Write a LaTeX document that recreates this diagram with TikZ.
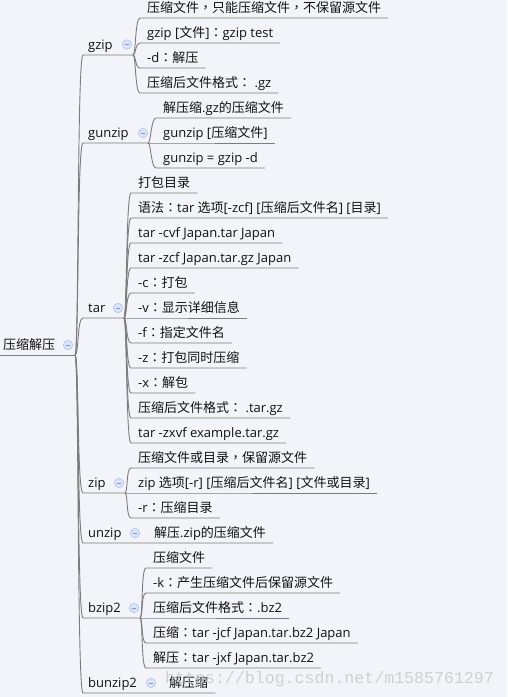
\documentclass[tikz,border=0pt]{standalone}
\usepackage{fontspec}
\setmainfont{Open Sans}
\newfontfamily\zhfont{Noto Sans CJK SC}
\newfontfamily\zhpfont{Noto Sans CJK TC}
\newfontfamily\wmfont{Liberation Mono}
\newcommand\zh[1]{{\zhfont #1}}
\newcommand\zcolon{{\zhpfont ：}}
\newcommand\zcomma{{\zhpfont ，}}
\definecolor{bgc}{HTML}{F3F4F9}
\definecolor{linec}{HTML}{7C7C7C}
\definecolor{iconfill}{HTML}{D9E3F7}
\definecolor{iconborder}{HTML}{B3C5EC}
\definecolor{iconminus}{HTML}{7B97D6}
\definecolor{txt}{HTML}{111111}
\newcommand\leaf[4]{\node[txtnode] (#1) at (#2-7,#3-5.5) {#4};}
\newcommand\leafconn[2]{\draw[conn] (#1) .. controls +(3,0) and +(-5,0) .. ([yshift=-5.5pt]#2.base west) -- ([yshift=-5.5pt]#2.base east);}
\newcommand\trunkconn[2]{\draw[conn] (rj) .. controls +(4,0) and +(-6,0) .. ([yshift=-5.5pt]#1.base west) -- #2;}
\begin{document}
\begin{tikzpicture}[x=1pt,y=-1pt,
  txtnode/.style={inner xsep=7pt, inner ysep=0pt, anchor=base west, font=\fontsize{13}{15}\selectfont, text=txt},
  conn/.style={draw=linec, line width=0.9pt},
  colicon/.style={circle, draw=iconborder, fill=iconfill, line width=0.6pt, minimum size=9.5pt, inner sep=0pt,
    path picture={\draw[iconminus, line width=0.8pt] ([xshift=2.6pt]path picture bounding box.west) -- ([xshift=-2.6pt]path picture bounding box.east);}}
]
\fill[bgc] (0,0) rectangle (507,697);
\useasboundingbox (0,0) rectangle (507,697);

% root and children
\node[txtnode, inner xsep=3pt] (root) at (0,349.5) {\zh{压缩解压}};
\coordinate (rj) at (75,355);
\node[txtnode, inner xsep=5pt] (gzip) at (83,49.5) {gzip};
\node[txtnode, inner xsep=5pt] (gunzip) at (83,137.5) {gunzip};
\node[txtnode, inner xsep=5pt] (tar) at (83,312.5) {tar};
\node[txtnode, inner xsep=5pt] (zip) at (83,487.5) {zip};
\node[txtnode, inner xsep=5pt] (unzip) at (83,537.5) {unzip};
\node[txtnode, inner xsep=5pt] (bzip) at (83,612.5) {bzip2};
\node[txtnode, inner xsep=5pt] (bunzip) at (83,687.5) {bunzip2};

\coordinate (gzipj) at (133,55);
\coordinate (gunzipj) at (148,143);
\coordinate (tarj) at (124,318);
\coordinate (zipj) at (125,493);
\coordinate (bzipj) at (140,618);

% gzip leaves
\leaf{g1}{147}{18}{\zh{压缩文件}\zcomma\zh{只能压缩文件}\zcomma\zh{不保留源文件}}
\leaf{g2}{147}{43}{gzip [\zh{文件}]\zcolon gzip test}
\leaf{g3}{147}{68}{-d\zcolon\zh{解压}}
\leaf{g4}{147}{93}{\zh{压缩后文件格式}\zcolon{} .gz}
% gunzip leaves
\leaf{gu1}{163}{118}{\zh{解压缩}.gz\zh{的压缩文件}}
\leaf{gu2}{163}{143}{gunzip [\zh{压缩文件}]}
\leaf{gu3}{163}{168}{gunzip = gzip -d}
% tar leaves
\leaf{t1}{138}{193}{\zh{打包目录}}
\leaf{t2}{138}{218}{\zh{语法}\zcolon tar \zh{选项}[-zcf] [\zh{压缩后文件名}] [\zh{目录}]}
\leaf{t3}{138}{243}{tar -cvf Japan.tar Japan}
\leaf{t4}{138}{268}{tar -zcf Japan.tar.gz Japan}
\leaf{t5}{138}{293}{-c\zcolon\zh{打包}}
\leaf{t6}{138}{318}{-v\zcolon\zh{显示详细信息}}
\leaf{t7}{138}{343}{-f\zcolon\zh{指定文件名}}
\leaf{t8}{138}{368}{-z\zcolon\zh{打包同时压缩}}
\leaf{t9}{138}{393}{-x\zcolon\zh{解包}}
\leaf{t10}{138}{418}{\zh{压缩后文件格式}\zcolon{} .tar.gz}
\leaf{t11}{138}{443}{tar -zxvf example.tar.gz}
% zip leaves
\leaf{z1}{138}{468}{\zh{压缩文件或目录}\zcomma\zh{保留源文件}}
\leaf{z2}{138}{493}{zip \zh{选项}[-r] [\zh{压缩后文件名}] [\zh{文件或目录}]}
\leaf{z3}{138}{518}{-r\zcolon\zh{压缩目录}}
% unzip leaf
\leaf{u1}{154}{543}{\zh{解压}.zip\zh{的压缩文件}}
% bzip2 leaves
\leaf{b1}{153}{568}{\zh{压缩文件}}
\leaf{b2}{153}{593}{-k\zcolon\zh{产生压缩文件后保留源文件}}
\leaf{b3}{153}{618}{\zh{压缩后文件格式}\zcolon .bz2}
\leaf{b4}{153}{643}{\zh{压缩}\zcolon tar -jcf Japan.tar.bz2 Japan}
\leaf{b5}{153}{668}{\zh{解压}\zcolon tar -jxf Japan.tar.bz2}
% bunzip2 leaf
\leaf{bu1}{169}{693}{\zh{解压缩}}

% connectors
\draw[conn] ([yshift=-5.5pt]root.base west) -- (rj);
\trunkconn{gzip}{(gzipj)}
\trunkconn{gunzip}{(gunzipj)}
\trunkconn{tar}{(tarj)}
\trunkconn{zip}{(zipj)}
\trunkconn{unzip}{([yshift=-5.5pt]u1.base east)}
\trunkconn{bzip}{(bzipj)}
\trunkconn{bunzip}{([yshift=-5.5pt]bu1.base east)}
\foreach \n in {g1,g2,g3,g4} {\leafconn{gzipj}{\n}}
\foreach \n in {gu1,gu2,gu3} {\leafconn{gunzipj}{\n}}
\foreach \n in {t1,t2,t3,t4,t5,t6,t7,t8,t9,t10,t11} {\leafconn{tarj}{\n}}
\foreach \n in {z1,z2,z3} {\leafconn{zipj}{\n}}
\foreach \n in {b1,b2,b3,b4,b5} {\leafconn{bzipj}{\n}}

% collapse icons
\node[colicon] (rooti) at (68,345) {};
\node[colicon] (gzipi) at (127,44.5) {};
\node[colicon] (gunzipi) at (143,133) {};
\node[colicon] (tari) at (118,308) {};
\node[colicon] (zipi) at (119,483) {};
\node[colicon] (unzipi) at (135,533) {};
\node[colicon] (bzipi) at (134,608) {};
\node[colicon] (bunzipi) at (151,683) {};

% watermark
\node[anchor=base west, inner sep=0pt, font=\wmfont\fontsize{16.6}{18}\selectfont, text=black!22, opacity=0.8] (wm) at (165,683) {https://blog.csdn.net/m1585761297};
\end{tikzpicture}
\end{document}
